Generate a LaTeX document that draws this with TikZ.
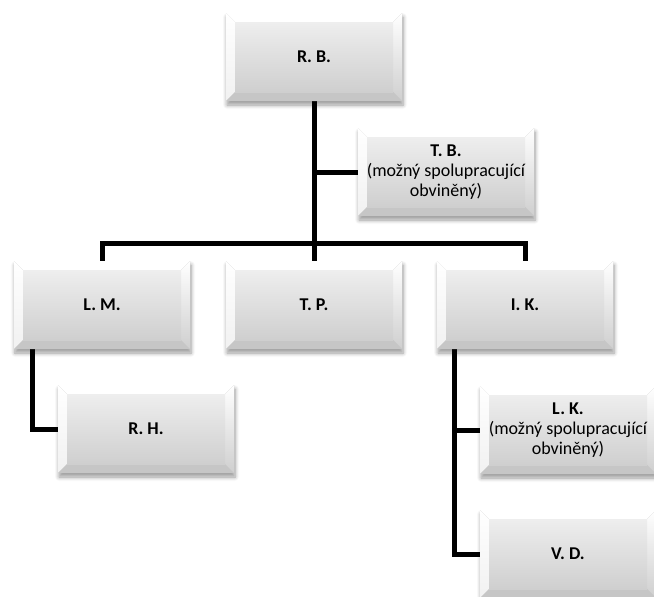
\documentclass[tikz,border=0pt]{standalone}
\usepackage{fontspec}
\setmainfont{Carlito}
\usetikzlibrary{backgrounds,shadows.blur}

\definecolor{bevtop}{HTML}{FFFFFF}
\definecolor{bevleft}{HTML}{F7F7F7}
\definecolor{bevbottom}{HTML}{C6C6C6}
\definecolor{facetop}{HTML}{EEEEEE}
\definecolor{facebottom}{HTML}{CFCFCF}

\tikzset{
  x=1pt, y=-1pt,
  orgbox/.style={
    minimum width=176pt, minimum height=88pt, inner sep=0pt,
    align=center, font=\fontsize{18}{20}\selectfont,
    fill=facebottom,
    blur shadow={shadow xshift=1pt, shadow yshift=-4pt, shadow blur steps=6,
                 shadow opacity=40, shadow blur radius=4pt},
    path picture={
      % raised bevel: four edge strips around a shaded face
      \fill[bevtop]
        (path picture bounding box.north west) --
        (path picture bounding box.north east) --
        ([xshift=-9pt,yshift=-9pt]path picture bounding box.north east) --
        ([xshift=9pt,yshift=-9pt]path picture bounding box.north west) -- cycle;
      \fill[top color=white, bottom color=bevleft!85!facebottom]
        (path picture bounding box.north west) --
        ([xshift=9pt,yshift=-9pt]path picture bounding box.north west) --
        ([xshift=9pt,yshift=9pt]path picture bounding box.south west) --
        (path picture bounding box.south west) -- cycle;
      \fill[top color=white, bottom color=facebottom]
        (path picture bounding box.north east) --
        (path picture bounding box.south east) --
        ([xshift=-9pt,yshift=9pt]path picture bounding box.south east) --
        ([xshift=-9pt,yshift=-9pt]path picture bounding box.north east) -- cycle;
      \fill[bevbottom]
        (path picture bounding box.south west) --
        (path picture bounding box.south east) --
        ([xshift=-9pt,yshift=9pt]path picture bounding box.south east) --
        ([xshift=9pt,yshift=9pt]path picture bounding box.south west) -- cycle;
      \fill[top color=facetop, bottom color=facebottom]
        ([xshift=9pt,yshift=-9pt]path picture bounding box.north west) rectangle
        ([xshift=-9pt,yshift=9pt]path picture bounding box.south east);
    }
  },
  conn/.style={draw=black, line width=5pt}
}

\begin{document}
\begin{tikzpicture}
\useasboundingbox (0,0) rectangle (654,597);

% boxes
\node[orgbox] (RB) at (314,57)  {\textbf{R. B.}};
\node[orgbox] (TB) at (446,172) {\textbf{T. B.}\\(možný spolupracující\\obviněný)};
\node[orgbox] (LM) at (102,305) {\textbf{L. M.}};
\node[orgbox] (TP) at (314,305) {\textbf{T. P.}};
\node[orgbox] (IK) at (525,305) {\textbf{I. K.}};
\node[orgbox] (RH) at (146,429) {\textbf{R. H.}};
\node[orgbox] (LK) at (568,430) {\textbf{L. K.}\\(možný spolupracující\\obviněný)};
\node[orgbox] (VD) at (568,554) {\textbf{V. D.}};

\coordinate (hub) at (314,243);
\coordinate (lmdrop) at ([xshift=19pt]LM.south west);
\coordinate (ikdrop) at ([xshift=18pt]IK.south west);

% connectors
\begin{scope}[on background layer]
  \draw[conn] (RB.south) -- (TP.north);
  \draw[conn] (LM.north) |- (hub) -| (IK.north);
  \draw[conn] (TB.west) -- (TB.west -| RB.south);
  \draw[conn] (lmdrop) |- (RH.west);
  \draw[conn] (ikdrop) |- (VD.west);
  \draw[conn] (LK.west) -- (LK.west -| ikdrop);
\end{scope}
\end{tikzpicture}
\end{document}
